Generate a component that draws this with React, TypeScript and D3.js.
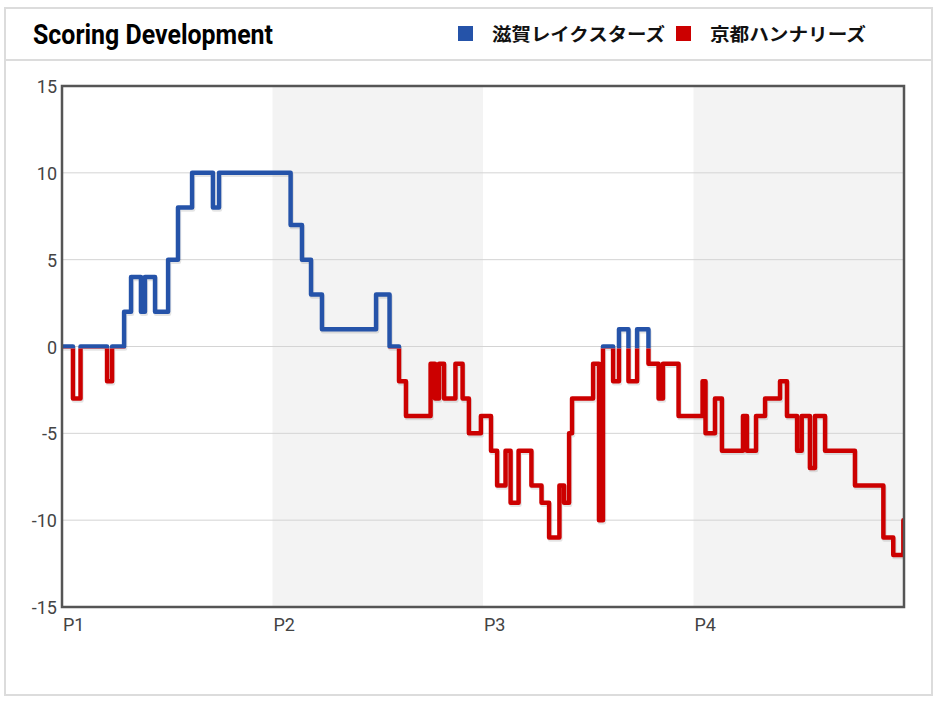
import { useEffect, useRef } from "react";
import * as d3 from "d3";

// Score difference (Shiga minus Kyoto) over game time, in elapsed minutes
const periods = ["P1", "P2", "P3", "P4"];
const yTicks = [15, 10, 5, 0, -5, -10, -15];
const teams = ["滋賀レイクスターズ", "京都ハンナリーズ"];
const teamColors = ["#2553a9", "#cc0000"];

const eventMinutes = [
  0, 0.52, 0.88, 2.14, 2.38, 2.95, 3.28, 3.75, 3.94, 4.42, 5.04, 5.51, 6.18, 7.17, 7.46,
  10.86, 11.4, 11.83, 12.35, 14.92, 15.56, 16.01, 16.34, 17.51, 17.72, 17.91, 18.15, 18.69,
  19.03, 19.33, 19.9, 20.38, 20.67, 21.07, 21.31, 21.69, 22.3, 22.78, 23.14, 23.63, 23.85,
  24.09, 24.23, 25.23, 25.51, 25.7, 26.18, 26.46, 26.91, 27.32, 27.86, 28.34, 28.55, 29.29,
  30.43, 30.57, 31.02, 31.35, 32.35, 32.54, 32.97, 33.4, 34.11, 34.44, 34.92, 35.14, 35.53,
  35.77, 36.25, 37.67, 39.02, 39.49, 39.97, 40,
];
const scoreDiff = [
  0, -3, 0, -2, 0, 2, 4, 2, 4, 2, 5, 8, 10, 8, 10,
  7, 5, 3, 1, 3, 0, -2, -4, -1, -3, -1, -3, -1,
  -3, -5, -4, -6, -8, -6, -9, -6, -8, -9, -11, -8, -9,
  -5, -3, -1, -10, 0, -2, 1, -2, 1, -1, -3, -1, -4,
  -2, -5, -3, -6, -4, -6, -4, -3, -2, -4, -6, -4, -7,
  -4, -6, -8, -11, -12, -10, -10,
];

const W = 942;
const H = 704;
const margin = { left: 62, right: 38, top: 86, bottom: 97 };

export default function App() {
  const ref = useRef<SVGSVGElement>(null);

  useEffect(() => {
    if (!ref.current) return;
    const svg = d3.select(ref.current);
    svg.selectAll("*").remove();

    const x0 = margin.left;
    const x1 = W - margin.right;
    const y0 = margin.top;
    const y1 = H - margin.bottom;

    const x = d3.scaleLinear().domain([0, 40]).range([x0, x1]);
    const y = d3.scaleLinear().domain([-15, 15]).range([y1, y0]);

    // card
    svg.append("rect")
      .attr("x", 5).attr("y", 8).attr("width", 927).attr("height", 687)
      .attr("fill", "#fff").attr("stroke", "#dcdcdc").attr("stroke-width", 2);
    svg.append("line")
      .attr("x1", 5).attr("x2", 932).attr("y1", 60).attr("y2", 60)
      .attr("stroke", "#dcdcdc").attr("stroke-width", 2);

    svg.append("text")
      .attr("x", 33).attr("y", 44)
      .attr("font-family", "Roboto, sans-serif")
      .attr("font-weight", 700).attr("font-size", 28).attr("fill", "#000")
      .attr("textLength", 240).attr("lengthAdjust", "spacingAndGlyphs")
      .text("Scoring Development");

    // legend
    const legX = [458, 676];
    const legW = [173, 156];
    teams.forEach((t, i) => {
      svg.append("rect")
        .attr("x", legX[i]).attr("y", 26).attr("width", 15).attr("height", 15)
        .attr("fill", teamColors[i]);
      svg.append("text")
        .attr("x", legX[i] + 34).attr("y", 41)
        .attr("font-family", "'Noto Sans CJK JP', sans-serif")
        .attr("font-weight", 700).attr("font-size", 18).attr("fill", "#111")
        .attr("textLength", legW[i]).attr("lengthAdjust", "spacingAndGlyphs")
        .text(t);
    });

    // period bands
    const g = svg.append("g");
    periods.forEach((p, i) => {
      if (i % 2 === 1) {
        g.append("rect")
          .attr("x", x(i * 10)).attr("y", y0)
          .attr("width", x((i + 1) * 10) - x(i * 10)).attr("height", y1 - y0)
          .attr("fill", "#f3f3f3");
      }
    });

    // grid
    g.selectAll(".grid")
      .data(yTicks)
      .enter()
      .append("line")
      .attr("x1", x0).attr("x2", x1)
      .attr("y1", (d) => y(d)).attr("y2", (d) => y(d))
      .attr("stroke", "#d4d4d4").attr("stroke-width", 1);

    const tickFont = "Roboto, sans-serif";
    g.selectAll(".ytick")
      .data(yTicks)
      .enter()
      .append("text")
      .attr("x", x0 - 5).attr("y", (d) => y(d) + 7)
      .attr("text-anchor", "end")
      .attr("font-family", tickFont).attr("font-size", 18).attr("fill", "#444")
      .text((d) => d);

    g.selectAll(".xtick")
      .data(periods)
      .enter()
      .append("text")
      .attr("x", (d, i) => x(i * 10) + 1).attr("y", y1 + 24)
      .attr("font-family", tickFont).attr("font-size", 18).attr("fill", "#444")
      .text((d) => d);

    const pts: [number, number][] = eventMinutes.map((m, i) => [m, scoreDiff[i]]);
    const line = d3.line<[number, number]>()
      .x((d) => x(d[0]))
      .y((d) => y(d[1]))
      .curve(d3.curveStepAfter);

    const defs = svg.append("defs");
    const zeroY = y(0) + 2;
    defs.append("clipPath").attr("id", "clip-pos")
      .append("rect").attr("x", x0).attr("y", y0 - 10).attr("width", x1 - x0).attr("height", zeroY - y0 + 10);
    defs.append("clipPath").attr("id", "clip-neg")
      .append("rect").attr("x", x0).attr("y", zeroY).attr("width", x1 - x0).attr("height", y1 - zeroY + 10);
    defs.append("clipPath").attr("id", "clip-plot")
      .append("rect").attr("x", x0).attr("y", y0).attr("width", x1 - x0).attr("height", y1 - y0);

    // soft shadow
    g.append("path")
      .attr("d", line(pts) || "")
      .attr("transform", "translate(1,2)")
      .attr("fill", "none").attr("stroke", "#000").attr("stroke-opacity", 0.1)
      .attr("stroke-width", 4.5).attr("stroke-linejoin", "round")
      .attr("clip-path", "url(#clip-plot)");

    ["clip-pos", "clip-neg"].forEach((c, i) => {
      g.append("path")
        .attr("d", line(pts) || "")
        .attr("fill", "none").attr("stroke", teamColors[i])
        .attr("stroke-width", 4.5).attr("stroke-linejoin", "round")
        .attr("clip-path", `url(#${c})`);
    });

    // frame
    g.append("rect")
      .attr("x", x0).attr("y", y0).attr("width", x1 - x0).attr("height", y1 - y0)
      .attr("fill", "none").attr("stroke", "#555").attr("stroke-width", 2.5);
  }, []);

  return (
    <svg
      ref={ref}
      width={W}
      height={H}
      style={{ position: "absolute", left: 0, top: 0, display: "block" }}
    />
  );
}
